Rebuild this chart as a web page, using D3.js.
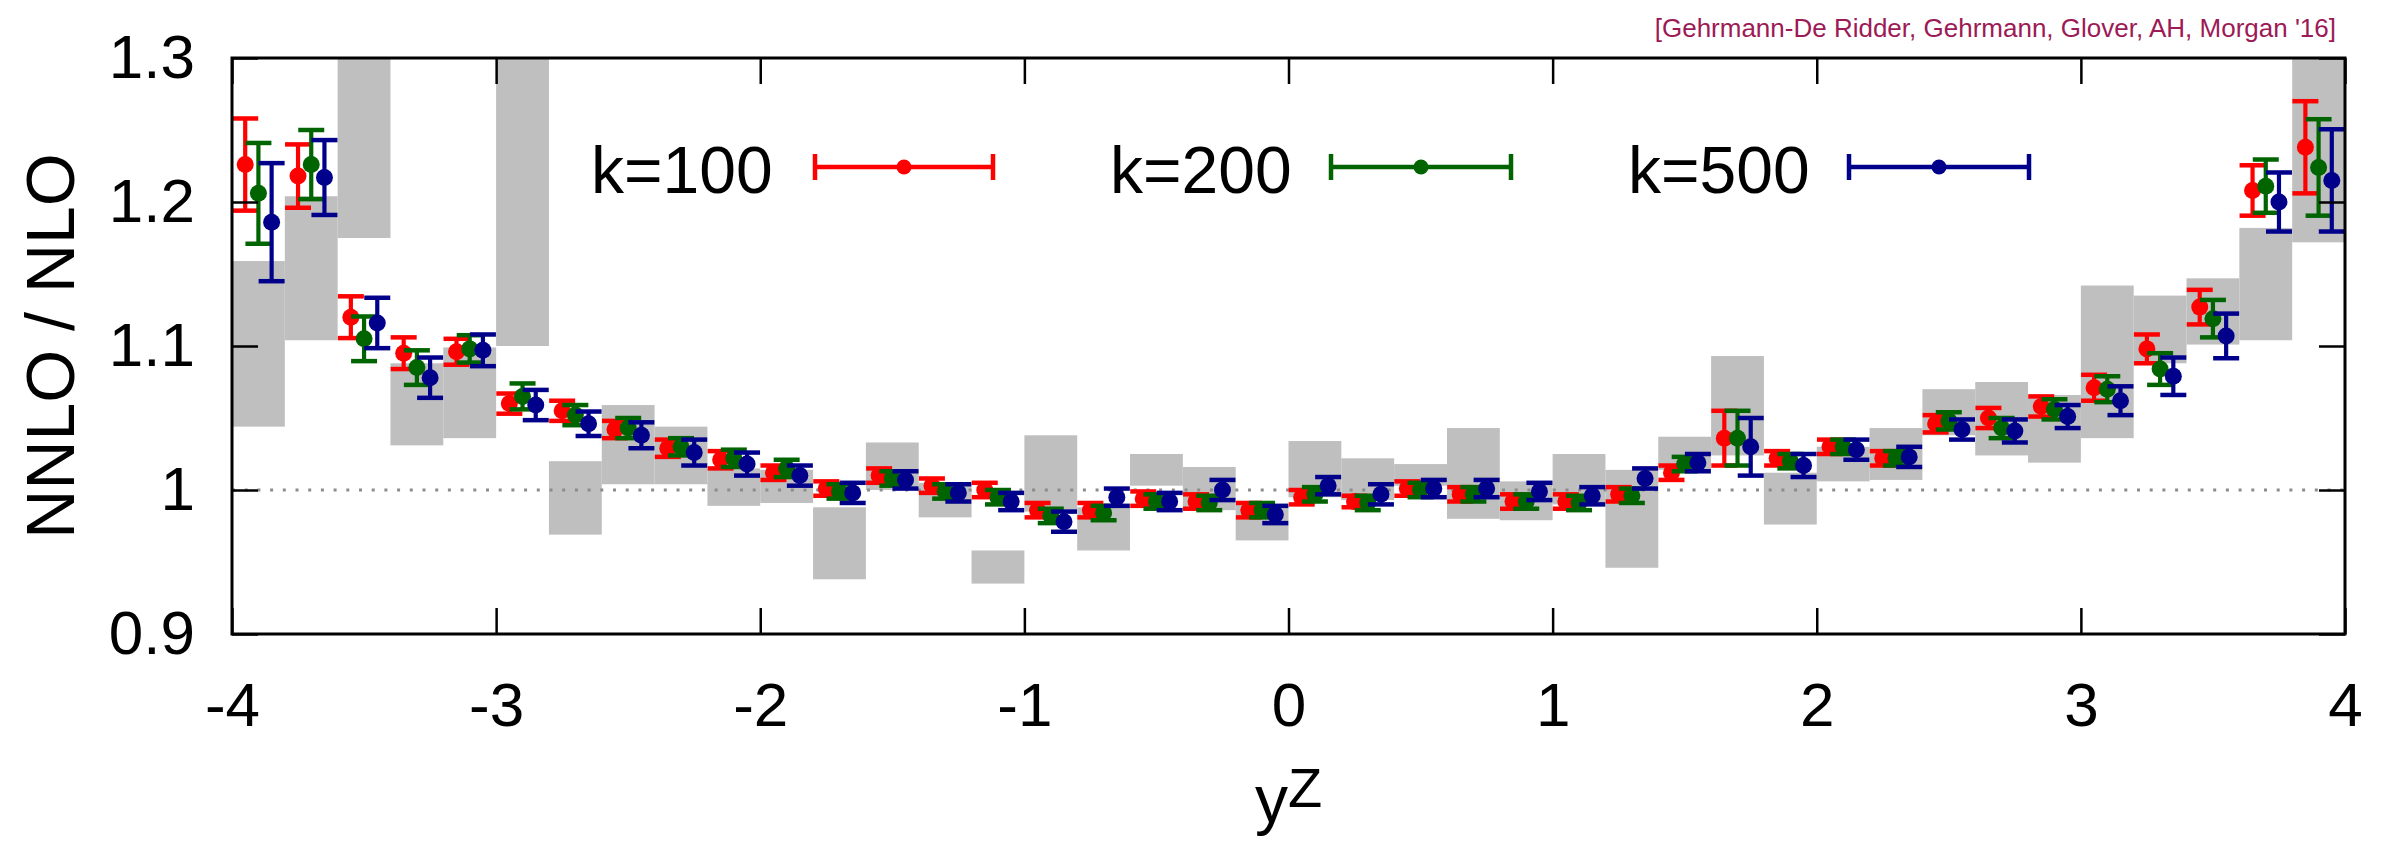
<!DOCTYPE html>
<html>
<head>
<meta charset="utf-8">
<script src="https://cdn.jsdelivr.net/npm/d3@7"></script>
<style>
  html, body { margin: 0; padding: 0; background: #fff; }
  svg { display: block; font-family: "Liberation Sans", Arial, Helvetica, sans-serif; }
</style>
</head>
<body>
<svg id="chart" width="2389" height="844"></svg>
<script>
// Rapidity bins of y^Z (centres, width 0.2)
const binCenters = [-3.9, -3.7, -3.5, -3.3, -3.1, -2.9, -2.7, -2.5, -2.3, -2.1,
                    -1.9, -1.7, -1.5, -1.3, -1.1, -0.9, -0.7, -0.5, -0.3, -0.1,
                     0.1,  0.3,  0.5,  0.7,  0.9,  1.1,  1.3,  1.5,  1.7,  1.9,
                     2.1,  2.3,  2.5,  2.7,  2.9,  3.1,  3.3,  3.5,  3.7,  3.9];
const binWidth = 0.2;

// NNLO/NLO ratio and statistical errors for the three k values
const k100 = [1.226, 1.218, 1.120, 1.095, 1.096, 1.060, 1.055, 1.042, 1.029, 1.021,
              1.012, 1.001, 1.010, 1.003, 1.000, 0.986, 0.986, 0.994, 0.992, 0.986,
              0.995, 0.992, 1.001, 0.997, 0.992, 0.992, 0.997, 1.012, 1.036, 1.022,
              1.030, 1.022, 1.046, 1.050, 1.058, 1.071, 1.098, 1.127, 1.208, 1.238];
const k100Err = [0.032, 0.022, 0.0145, 0.011, 0.009, 0.007, 0.007, 0.006, 0.006, 0.006,
                 0.005, 0.005, 0.005, 0.005, 0.005, 0.005, 0.005, 0.005, 0.005, 0.005,
                 0.005, 0.004, 0.005, 0.005, 0.005, 0.005, 0.005, 0.005, 0.019, 0.005,
                 0.005, 0.005, 0.006, 0.007, 0.007, 0.009, 0.010, 0.012, 0.0175, 0.032];

const k200 = [1.206, 1.226, 1.105, 1.085, 1.098, 1.065, 1.052, 1.043, 1.030, 1.022,
              1.015, 0.999, 1.008, 0.999, 0.995, 0.982, 0.984, 0.992, 0.991, 0.986,
              0.997, 0.991, 1.000, 0.997, 0.992, 0.991, 0.996, 1.018, 1.036, 1.020,
              1.030, 1.022, 1.048, 1.043, 1.056, 1.070, 1.084, 1.119, 1.211, 1.224];
const k200Err = [0.035, 0.024, 0.0155, 0.012, 0.0095, 0.009, 0.007, 0.007, 0.006, 0.006,
                 0.006, 0.005, 0.005, 0.005, 0.005, 0.005, 0.005, 0.005, 0.005, 0.005,
                 0.005, 0.005, 0.005, 0.005, 0.005, 0.005, 0.005, 0.005, 0.019, 0.005,
                 0.005, 0.005, 0.006, 0.007, 0.007, 0.009, 0.011, 0.013, 0.0185, 0.0335];

const k500 = [1.186, 1.217, 1.116, 1.078, 1.097, 1.059, 1.046, 1.038, 1.026, 1.018,
              1.010, 0.998, 1.007, 0.998, 0.992, 0.978, 0.995, 0.992, 1.000, 0.983,
              1.003, 0.997, 1.001, 1.001, 0.999, 0.996, 1.008, 1.019, 1.030, 1.017,
              1.028, 1.023, 1.042, 1.041, 1.051, 1.062, 1.079, 1.107, 1.200, 1.215];
const k500Err = [0.041, 0.026, 0.0175, 0.014, 0.011, 0.0105, 0.0085, 0.009, 0.009, 0.008,
                 0.007, 0.007, 0.006, 0.006, 0.006, 0.007, 0.006, 0.006, 0.007, 0.006,
                 0.006, 0.007, 0.006, 0.006, 0.006, 0.006, 0.007, 0.006, 0.020, 0.008,
                 0.007, 0.007, 0.007, 0.008, 0.008, 0.010, 0.013, 0.0155, 0.0205, 0.0355];

// Scale-variation band per bin (lower / upper edge)
const bandLo = [1.044, 1.104, 1.175, 1.031, 1.036, 1.100, 0.969, 1.004, 1.004, 0.989,
                0.991, 0.938, 1.000, 0.981, 0.935, 0.985, 0.958, 1.003, 0.986, 0.965,
                0.995, 0.993, 1.003, 0.980, 0.979, 0.990, 0.946, 1.014, 1.024, 0.976,
                1.006, 1.007, 1.038, 1.024, 1.019, 1.036, 1.088, 1.101, 1.104, 1.172];
const bandHi = [1.159, 1.204, 1.320, 1.088, 1.099, 1.320, 1.020, 1.059, 1.044, 1.015,
                1.014, 0.988, 1.033, 1.005, 0.958, 1.038, 0.988, 1.025, 1.016, 0.990,
                1.034, 1.022, 1.018, 1.043, 1.006, 1.025, 1.014, 1.037, 1.093, 1.012,
                1.030, 1.043, 1.070, 1.075, 1.066, 1.142, 1.135, 1.147, 1.182, 1.320];

const seriesNames = ["k=100", "k=200", "k=500"];
const xTicks = [-4, -3, -2, -1, 0, 1, 2, 3, 4];
const xTickLabels = ["-4", "-3", "-2", "-1", "0", "1", "2", "3", "4"];
const yTicks = [0.9, 1.0, 1.1, 1.2, 1.3];
const yTickLabels = ["0.9", "1", "1.1", "1.2", "1.3"];
const citation = "[Gehrmann-De Ridder, Gehrmann, Glover, AH, Morgan '16]";

// ---- drawing ----
const svg = d3.select("#chart");
const plot = { left: 232, right: 2345, top: 58, bottom: 634 };
const x = d3.scaleLinear().domain([-4, 4]).range([plot.left, plot.right]);
const y = d3.scaleLinear().domain([0.9, 1.3]).range([plot.bottom, plot.top]);

const series = [
  { name: seriesNames[0], values: k100, errs: k100Err, color: "#ff0000", shift: -0.05 },
  { name: seriesNames[1], values: k200, errs: k200Err, color: "#006400", shift: 0.0 },
  { name: seriesNames[2], values: k500, errs: k500Err, color: "#00008b", shift: 0.05 }
];

svg.append("defs").append("clipPath").attr("id", "plotClip")
  .append("rect")
  .attr("x", plot.left).attr("y", plot.top)
  .attr("width", plot.right - plot.left).attr("height", plot.bottom - plot.top);

const inner = svg.append("g").attr("clip-path", "url(#plotClip)");

// grey band boxes
inner.append("g").selectAll("rect")
  .data(binCenters.map((c, i) => ({ c, lo: bandLo[i], hi: bandHi[i] })))
  .join("rect")
  .attr("x", d => x(d.c - binWidth / 2))
  .attr("width", d => x(d.c + binWidth / 2) - x(d.c - binWidth / 2))
  .attr("y", d => y(d.hi))
  .attr("height", d => y(d.lo) - y(d.hi))
  .attr("fill", "#bfbfbf");

// reference line at ratio 1
inner.append("line")
  .attr("x1", plot.left).attr("x2", plot.right)
  .attr("y1", y(1)).attr("y2", y(1))
  .attr("stroke", "#8c8c8c").attr("stroke-width", 3)
  .attr("stroke-dasharray", "3 9.7");

// error bars and points
const capHalf = 13;
series.forEach(s => {
  const g = inner.append("g").attr("stroke", s.color).attr("fill", s.color);
  const pts = binCenters.map((c, i) => ({ xv: c + s.shift, v: s.values[i], e: s.errs[i] }));
  const eb = g.selectAll("g.eb").data(pts).join("g").attr("class", "eb");
  eb.append("line")
    .attr("x1", d => x(d.xv)).attr("x2", d => x(d.xv))
    .attr("y1", d => y(d.v - d.e)).attr("y2", d => y(d.v + d.e))
    .attr("stroke-width", 4.2);
  eb.append("line")
    .attr("x1", d => x(d.xv) - capHalf).attr("x2", d => x(d.xv) + capHalf)
    .attr("y1", d => y(d.v + d.e)).attr("y2", d => y(d.v + d.e))
    .attr("stroke-width", 4.5);
  eb.append("line")
    .attr("x1", d => x(d.xv) - capHalf).attr("x2", d => x(d.xv) + capHalf)
    .attr("y1", d => y(d.v - d.e)).attr("y2", d => y(d.v - d.e))
    .attr("stroke-width", 4.5);
  eb.append("circle")
    .attr("cx", d => x(d.xv)).attr("cy", d => y(d.v))
    .attr("r", 8.5).attr("stroke", "none");
});

// axes with inward ticks
const tickLen = 26;
const axisFont = 62;

svg.append("g")
  .attr("transform", `translate(0,${plot.bottom})`)
  .call(d3.axisBottom(x).tickValues(xTicks)
    .tickFormat((d, i) => xTickLabels[i])
    .tickSizeInner(-tickLen).tickSizeOuter(0).tickPadding(48));
svg.append("g")
  .attr("transform", `translate(0,${plot.top})`)
  .call(d3.axisTop(x).tickValues(xTicks).tickFormat("")
    .tickSizeInner(-tickLen).tickSizeOuter(0));
svg.append("g")
  .attr("transform", `translate(${plot.left},0)`)
  .call(d3.axisLeft(y).tickValues(yTicks)
    .tickFormat((d, i) => yTickLabels[i])
    .tickSizeInner(-tickLen).tickSizeOuter(0).tickPadding(37));
svg.append("g")
  .attr("transform", `translate(${plot.right},0)`)
  .call(d3.axisRight(y).tickValues(yTicks).tickFormat("")
    .tickSizeInner(-tickLen).tickSizeOuter(0));

svg.selectAll(".domain").remove();
svg.selectAll(".tick line").attr("stroke", "#000").attr("stroke-width", 2.5);
svg.selectAll(".tick text")
  .attr("font-size", axisFont)
  .attr("font-family", "'Liberation Sans', Arial, sans-serif")
  .attr("fill", "#000");

// frame
svg.append("rect")
  .attr("x", plot.left).attr("y", plot.top)
  .attr("width", plot.right - plot.left).attr("height", plot.bottom - plot.top)
  .attr("fill", "none").attr("stroke", "#000").attr("stroke-width", 3);

// axis titles
svg.append("text")
  .attr("transform", `translate(74,${(plot.top + plot.bottom) / 2}) rotate(-90)`)
  .attr("text-anchor", "middle")
  .attr("font-size", 68)
  .text("NNLO / NLO");

const xt = svg.append("text")
  .attr("x", x(0)).attr("y", 822)
  .attr("text-anchor", "middle")
  .attr("font-size", 66);
xt.append("tspan").text("y");
xt.append("tspan").attr("font-size", 56).attr("dy", -15).text("Z");

// citation
svg.append("text")
  .attr("x", 2336).attr("y", 37)
  .attr("text-anchor", "end")
  .attr("font-size", 26)
  .attr("fill", "#9c1a55")
  .text(citation);

// legend
const legendItems = [
  { idx: 0, textX: 591, x1: 815, x2: 993 },
  { idx: 1, textX: 1110, x1: 1331, x2: 1511 },
  { idx: 2, textX: 1628, x1: 1849, x2: 2029 }
];
const legendY = 167;
legendItems.forEach(li => {
  const s = series[li.idx];
  const g = svg.append("g");
  g.append("text")
    .attr("x", li.textX).attr("y", 193)
    .attr("font-size", 66)
    .text(s.name);
  g.append("line").attr("x1", li.x1).attr("x2", li.x2)
    .attr("y1", legendY).attr("y2", legendY)
    .attr("stroke", s.color).attr("stroke-width", 4.5);
  [li.x1, li.x2].forEach(xx => g.append("line")
    .attr("x1", xx).attr("x2", xx)
    .attr("y1", legendY - 13).attr("y2", legendY + 13)
    .attr("stroke", s.color).attr("stroke-width", 4.5));
  g.append("circle").attr("cx", (li.x1 + li.x2) / 2).attr("cy", legendY)
    .attr("r", 7.5).attr("fill", s.color);
});
</script>
</body>
</html>
